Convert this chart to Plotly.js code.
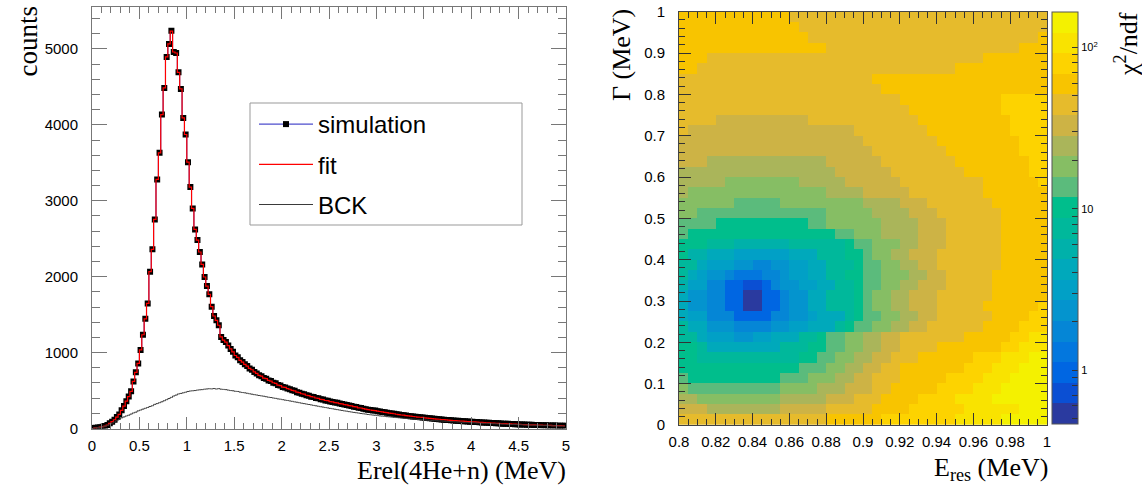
<!DOCTYPE html>
<html><head><meta charset="utf-8">
<script src="https://cdn.plot.ly/plotly-3.0.1.min.js"></script>
<style>html,body{margin:0;padding:0;background:#fff}#chart{width:1142px;height:485px}</style>
</head><body><div id="chart"></div>
<script>
// ---------- left panel: Erel histogram, 200 bins of 0.025 MeV ----------
const binStart = 0.0125, binWidth = 0.025;
const simulation = [
6,9,13,18,24,33,46,68,90,115,150,185,240,295,360,420,490,620,740,857,
1035,1235,1445,1648,2066,2360,2754,3281,3632,4136,4487,4895,5066,5241,4960,4947,4693,4474,4092,3873,
3509,3180,2899,2623,2482,2325,2162,1996,1877,1768,1605,1482,1425,1360,1206,1165,1138,1092,1048,1010,
962,938,898,875,846,822,792,774,745,726,700,690,664,657,634,625,603,595,572,566,
546,541,526,517,503,496,478,472,458,452,438,433,419,415,402,398,385,381,369,366,
355,350,342,338,328,324,315,311,302,298,288,284,273,270,261,255,248,244,238,236,
228,224,218,213,208,202,198,194,188,184,178,176,170,166,162,158,155,151,148,146,
141,138,134,131,128,124,122,118,116,113,111,108,105,103,101,98,96,95,92,90,
88,86,84,82,80,78,76,75,72,71,69,68,66,64,63,61,60,58,57,56,
54,53,52,50,49,48,47,46,45,44,43,42,41,40,39,38,37,37,36,35];
const fit = [
6,9,13,18,24,33,46,68,90,115,150,185,240,295,360,420,490,620,740,857,
1035,1235,1445,1648,2066,2360,2754,3281,3632,4136,4487,4895,5066,5235,4960,4947,4693,4474,4092,3873,
3509,3180,2899,2623,2482,2325,2162,1996,1877,1768,1605,1482,1425,1360,1206,1165,1138,1092,1048,1010,
962,938,898,875,846,822,792,774,745,726,700,690,664,657,634,625,603,595,572,566,
546,541,526,517,503,496,478,472,458,452,438,433,419,415,402,398,385,381,369,366,
355,350,342,338,328,324,315,311,302,298,288,284,273,270,261,255,248,244,238,236,
228,224,218,213,208,202,198,194,188,184,178,176,170,166,162,158,155,151,148,146,
141,138,134,131,128,124,122,118,116,113,111,108,105,103,101,98,96,95,92,90,
88,86,84,82,80,78,76,75,72,71,69,68,66,64,63,61,60,58,57,56,
54,53,52,50,49,48,47,46,45,44,43,42,41,40,39,38,37,37,36,35];
const bck = [
5,8,12,17,22,30,40,55,70,86,102,118,140,152,165,175,190,205,215,232,
243,255,266,277,290,300,318,328,340,352,366,380,395,410,428,440,455,462,470,478,
488,494,497,500,506,510,512,518,521,524,522,526,520,525,518,515,512,506,500,497,
490,488,480,474,470,464,458,452,446,441,435,430,425,419,412,408,402,397,390,386,
380,374,369,363,358,351,346,340,333,328,322,316,311,304,299,293,287,282,276,271,
265,260,254,249,243,238,232,228,222,217,212,208,203,198,194,190,185,181,177,174,
170,166,163,160,156,153,150,147,144,141,138,135,132,130,127,124,122,119,117,115,
112,110,108,106,104,102,100,98,96,94,92,90,89,87,85,84,82,81,79,78,
76,75,73,72,70,69,67,66,65,63,62,61,59,58,57,56,54,53,52,51,
50,49,48,47,46,45,44,43,42,41,40,39,38,37,36,35,34,33,32,31];

// ---------- right panel: chi2/ndf map over (Eres, Gamma) ----------
const eresStart = 0.8025, eresStep = 0.005;     // 40 columns, 0.80 .. 1.00 MeV
const gammaStart = 0.0125, gammaStep = 0.025;   // 40 rows, 0 .. 1 MeV
const chi2LogMin = -0.334, chi2LogMax = 2.219;  // colour range (log10 chi2/ndf)
const levelColors = ['#2a3a9f','#0b4fd3','#0066e2','#0377de','#0586d6','#0494ce','#01a0c6','#00a9bb','#00b1aa','#00b89b',
                     '#00be8c','#5bbb7c','#86be64','#aab55a','#cdb345','#e6bb2c','#f8c400','#fdd300','#f9e300','#f4f100'];
// colour level of each cell (a = lowest .. t = highest), run-length coded, rows from Gamma = 1 (top) down to Gamma = 0
const chi2Runs = [
"q12 p28","q13 p27","q14 p25 q1","q16 p21 q3","q3 p30 q7","q2 p28 q10","p21 q19","p22 q18",
"p24 q11 r5","p25 q10 r5","p4 o10 p12 q10 r4","p1 o18 p8 q9 r4","o20 p8 q9 r3","o21 p8 q8 r3",
"o3 n13 o6 p8 q8 r2","n17 o6 p8 q7 r2","n5 m8 n5 o6 p9 q6 r1","n1 m15 n4 o5 p8 q7",
"m6 l5 m9 n4 o3 p7 q6",
"m2 l14 m5 n4 o3 p7 q5",
"l4 k10 l2 m6 n4 o3 p6 q5",
"l1 k16 l2 m3 n4 o3 p6 q5",
"k3 j3 i6 j6 k1 l2 m3 n2 o3 p6 q5",
"k1 i2 h3 g6 h3 j3 k2 l1 m2 n2 o3 p7 q5",
"j2 h1 g3 f2 e2 f2 g2 h2 j3 k1 l2 m2 n2 o2 p7 q5",
"j1 h1 g1 f2 e1 d3 e2 f1 g2 h2 j2 k2 l2 m3 n2 o2 p5 q6",
"i1 g2 e2 c2 b2 c1 e1 f2 g2 h2 j2 k1 l2 m2 n2 o3 p5 q6",
"h1 f2 e2 c2 a2 c2 e1 f2 h2 j3 k1 l1 m2 n2 o3 p6 q6",
"h1 f2 e2 c2 a2 c2 e1 f2 h2 j3 k1 l1 m2 n2 o3 p5 q6 r1",
"h1 g2 e3 c4 e2 f2 g1 h3 j1 k1 l2 m2 n2 o2 p6 q4 r2",
"j1 h2 f3 e4 f2 g2 h3 j1 k1 l2 m2 n2 o2 p6 q4 r3",
"j2 h1 g3 f2 g2 h3 j2 k1 l2 m2 n2 o2 p7 q5 r2 s2",
"k2 j1 h8 j3 k2 l2 m2 n2 o2 p4 q7 r2 s3",
"k2 j11 k2 l2 m2 n2 o2 p3 q6 r3 s3 t2",
"k13 l3 m2 n2 o2 p2 q7 r3 s3 t3",
"l1 k10 l3 m3 n2 o2 p3 q5 r4 s3 t4",
"m1 l10 m4 n3 o3 p2 q5 r4 s3 t5",
"n2 m9 n5 o3 p3 q4 r4 s4 t6",
"o3 n8 o5 p5 q4 r6 s6 t3",
"p16 q6 r8 s5 t5"];
const cbarTickValues = [0.5,0.6,0.7,0.8,0.9,1,2,3,4,5,6,7,8,9,10,20,30,40,50,60,70,80,90,100];
const cbarTickLabels = {1:'1',10:'10',100:'10<sup>2</sup>'};

// ---------- build ----------
const nLev = levelColors.length;
const dz = (chi2LogMax - chi2LogMin) / nLev;
function decodeRow(s){
  const out = [];
  s.split(' ').forEach(tok => {
    const lev = tok.charCodeAt(0) - 97, n = parseInt(tok.slice(1), 10);
    for (let k = 0; k < n; k++) out.push(chi2LogMin + (lev + 0.5) * dz);
  });
  if (out.length !== 40) console.warn('row length', out.length, s);
  return out;
}
const zMap = chi2Runs.map(decodeRow).reverse();   // row 0 = lowest Gamma
const colorscale = [];
levelColors.forEach((c, k) => { colorscale.push([k / nLev, c]); colorscale.push([(k + 1) / nLev, c]); });

const serif = 'Liberation Serif, Times New Roman, serif';
const sans = 'Liberation Sans, Arial, Helvetica, sans-serif';
const W = 1142, H = 485;
const px = v => v / W, py = v => 1 - v / H;

const traces = [
  {type:'scatter', mode:'lines+markers', name:'simulation', legendgroup:'g1', x0:binStart, dx:binWidth, y:simulation,
   line:{color:'#2020c0', width:1, shape:'hvh'}, marker:{symbol:'square', size:6, color:'#000'}, xaxis:'x', yaxis:'y'},
  {type:'scatter', mode:'lines', name:'fit', legendgroup:'g2', x0:binStart, dx:binWidth, y:fit,
   line:{color:'#ff0000', width:1.2, shape:'hvh'}, xaxis:'x', yaxis:'y'},
  {type:'scatter', mode:'lines', name:'BCK', legendgroup:'g3', x0:binStart, dx:binWidth, y:bck,
   line:{color:'#3a3a3a', width:1, shape:'hvh'}, xaxis:'x', yaxis:'y'},
  {type:'heatmap', z:zMap, x0:eresStart, dx:eresStep, y0:gammaStart, dy:gammaStep,
   zmin:chi2LogMin, zmax:chi2LogMax, colorscale:colorscale, showlegend:false, xaxis:'x2', yaxis:'y2',
   colorbar:{x:px(1052), xanchor:'left', y:py(218), yanchor:'middle', len:(424-12)/H, lenmode:'fraction',
     thickness:26, thicknessmode:'pixels', outlinewidth:1, outlinecolor:'#555', xpad:0, ypad:0,
     ticks:'inside', ticklen:6, tickcolor:'#333',
     tickvals:cbarTickValues.map(v => Math.log10(v)),
     ticktext:cbarTickValues.map(v => cbarTickLabels[v] || ''),
     tickfont:{family:sans, size:11, color:'#000'}}}
];

const axBase = {showgrid:false, zeroline:false, showline:true, mirror:'ticks', ticks:'inside',
  tickfont:{family:sans, size:15, color:'#000'}, fixedrange:true};
const layout = {
  width:W, height:H, margin:{l:0, r:0, t:0, b:0}, paper_bgcolor:'#fff', plot_bgcolor:'#fff',
  font:{family:sans, size:15, color:'#000'}, showlegend:true, hovermode:false,
  legend:{x:px(254), y:py(102), xanchor:'left', yanchor:'top', bgcolor:'rgba(0,0,0,0)', borderwidth:0,
    font:{family:sans, size:24, color:'#000'}, tracegroupgap:6, itemwidth:54, traceorder:'grouped'},
  xaxis:Object.assign({}, axBase, {domain:[px(92), px(566)], range:[0,5], anchor:'y', tick0:0, dtick:0.5,
    linecolor:'#777', tickcolor:'#777', ticklen:12, ticklabelstandoff:3,
    minor:{dtick:0.1, ticklen:6, ticks:'inside', tickcolor:'#777'}}),
  yaxis:Object.assign({}, axBase, {domain:[1-428.5/H, 1-7/H], range:[0,5553], anchor:'x', tick0:0, dtick:1000,
    tickformat:'d', linecolor:'#777', tickcolor:'#777', ticklen:15, ticklabelstandoff:10,
    minor:{dtick:200, ticklen:8, ticks:'inside', tickcolor:'#777'}}),
  xaxis2:Object.assign({}, axBase, {domain:[px(679), px(1047)], range:[0.8,1], anchor:'y2', tick0:0.8, dtick:0.02,
    linecolor:'#444', tickcolor:'#333', ticklen:12, ticklabelstandoff:3,
    minor:{dtick:0.005, ticklen:6, ticks:'inside', tickcolor:'#333'}}),
  yaxis2:Object.assign({}, axBase, {domain:[1-425/H, 1-11.7/H], range:[0,1], anchor:'x2', tick0:0, dtick:0.1,
    linecolor:'#444', tickcolor:'#333', ticklen:12, ticklabelstandoff:10,
    minor:{dtick:0.02, ticklen:6, ticks:'inside', tickcolor:'#333'}}),
  shapes:[{type:'rect', xref:'paper', yref:'paper', x0:px(250), x1:px(522), y0:py(225), y1:py(103),
    line:{color:'#999', width:1}, fillcolor:'rgba(0,0,0,0)'}],
  annotations:[
    {text:'counts', xref:'paper', yref:'paper', x:px(28), y:py(4), xanchor:'center', yanchor:'top', textangle:-90,
     showarrow:false, font:{family:serif, size:27, color:'#000'}},
    {text:'Erel(4He+n) (MeV)', xref:'paper', yref:'paper', x:px(567), y:py(470), xanchor:'right', yanchor:'middle',
     showarrow:false, borderpad:0, font:{family:serif, size:26, color:'#000'}},
    {text:'\u0393 (MeV)', xref:'paper', yref:'paper', x:px(622), y:py(7), xanchor:'center', yanchor:'top', textangle:-90,
     showarrow:false, font:{family:serif, size:26, color:'#000'}},
    {text:'E<sub>res</sub> (MeV)', xref:'paper', yref:'paper', x:px(1049), y:py(469), xanchor:'right', yanchor:'middle',
     showarrow:false, borderpad:0, font:{family:serif, size:26, color:'#000'}},
    {text:'\u03c7<sup>2</sup>/ndf', xref:'paper', yref:'paper', x:px(1126), y:py(10), xanchor:'center', yanchor:'top', textangle:-90,
     showarrow:false, font:{family:serif, size:26, color:'#000'}}
  ]
};
Plotly.newPlot('chart', traces, layout, {displayModeBar:false, staticPlot:true});
</script></body></html>
